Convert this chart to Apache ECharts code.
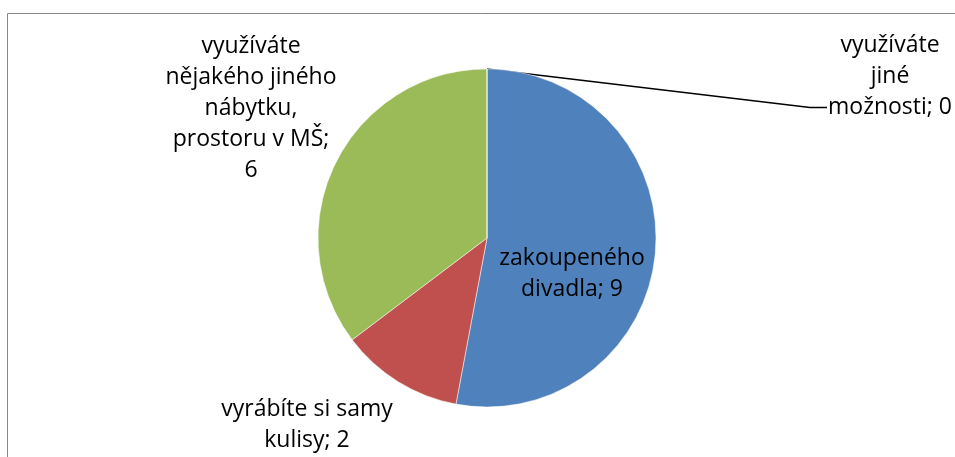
<!DOCTYPE html>
<html><head><meta charset="utf-8">
<script src="https://cdn.jsdelivr.net/npm/echarts@6/dist/echarts.min.js"></script>
<style>html,body{margin:0;padding:0;background:#fff}#c{width:955px;height:457px}</style>
</head><body><div id="c"></div>
<script>
const categories = ['zakoupeného\ndivadla', 'vyrábíte si samy\nkulisy', 'využíváte\nnějakého jiného\nnábytku,\nprostoru v MŠ', 'využíváte\njiné\nmožnosti'];
const values = [9, 2, 6, 0];
const colors = ['#4F81BD', '#C0504D', '#9BBB59', '#8064A2'];
const labelPos = [[572, 274], [307, 425], [251, 108], [890, 76]];

const chart = echarts.init(document.getElementById('c'), null, {renderer: 'canvas'});
const data = categories.map((n, i) => ({
  name: n, value: values[i],
  itemStyle: {color: colors[i]},
  label: {position: i === 0 ? 'inside' : 'outside'},
  labelLine: {show: values[i] === 0}
}));
chart.setOption({
  animation: false,
  graphic: [{type: 'rect', shape: {x: 7.5, y: 13.5, width: 1200, height: 800}, style: {fill: null, stroke: '#878787', lineWidth: 1}, silent: true}],
  series: [{
    type: 'pie', center: [487, 238], radius: 169, startAngle: 90, clockwise: true,
    avoidLabelOverlap: false, minShowLabelAngle: 0,
    itemStyle: {borderColor: '#ffffff', borderWidth: 0.5},
    label: {
      show: true, color: '#000', fontFamily: 'Open Sans', fontSize: 23, lineHeight: 31,
      formatter: p => p.name + ';' + (p.dataIndex === 2 ? '\n' : ' ') + p.value
    },
    labelLine: {show: false, lineStyle: {color: '#000', width: 1.5}},
    labelLayout: function (params) {
      const pos = labelPos[params.dataIndex];
      const res = {x: pos[0], y: pos[1], align: 'center', verticalAlign: 'middle'};
      if (values[params.dataIndex] === 0 && params.labelLinePoints) {
        const w = params.labelRect.width, h = params.labelRect.height;
        const lx = pos[0] - w / 2 - 1;
        const ly = pos[1] + h / 2 - 15;
        res.labelLinePoints = [params.labelLinePoints[0], [lx - 17, ly], [lx, ly]];
      }
      return res;
    },
    data: data
  }]
});
</script></body></html>
